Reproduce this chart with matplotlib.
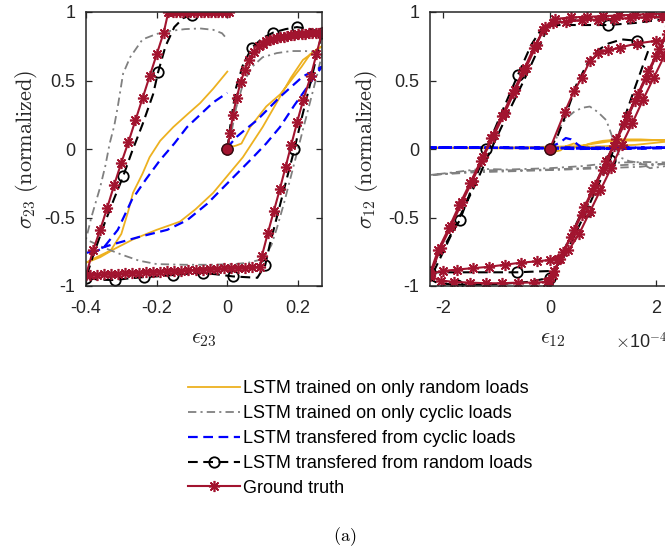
import matplotlib
matplotlib.use('Agg')
import matplotlib.pyplot as plt
from matplotlib.lines import Line2D

# ---------------- data: shear 23 (left panel) ----------------
# ground truth
gt23_x = ([0, 0.008, 0.016, 0.026, 0.038, 0.05, 0.062, 0.076, 0.09, 0.10, 0.11, 0.12, 0.13,
           0.14, 0.15, 0.16, 0.17, 0.18, 0.19, 0.20, 0.21, 0.22, 0.23, 0.24, 0.25, 0.26, 0.268]
          + [0.252, 0.236, 0.215, 0.198, 0.181, 0.165, 0.149, 0.132, 0.115, 0.098, 0.092]
          + [0.07, 0.05, 0.03, 0.01, -0.01, -0.03, -0.05, -0.07, -0.09, -0.11, -0.13, -0.15, -0.17,
             -0.19, -0.21, -0.23, -0.25, -0.27, -0.29, -0.31, -0.33, -0.35, -0.37, -0.39, -0.4]
          + [-0.38, -0.36, -0.34, -0.32, -0.30, -0.28, -0.26, -0.24, -0.22, -0.20, -0.18, -0.167]
          + [-0.155, -0.145, -0.135, -0.125, -0.115, -0.105, -0.095, -0.085, -0.075, -0.065,
             -0.055, -0.045, -0.035, -0.025, -0.015, -0.005, 0.005])
gt23_y = ([0, 0.12, 0.25, 0.37, 0.49, 0.58, 0.65, 0.71, 0.75, 0.77, 0.785, 0.795, 0.80,
           0.81, 0.815, 0.82, 0.825, 0.83, 0.833, 0.836, 0.84, 0.842, 0.845, 0.847, 0.85, 0.85, 0.852]
          + [0.69, 0.53, 0.36, 0.20, 0.03, -0.13, -0.29, -0.45, -0.61, -0.78, -0.86]
          + [-0.862, -0.865, -0.867, -0.87, -0.872, -0.875, -0.877, -0.88, -0.882, -0.885, -0.887,
             -0.89, -0.892, -0.895, -0.897, -0.90, -0.902, -0.905, -0.907, -0.91, -0.912, -0.915,
             -0.917, -0.92, -0.92]
          + [-0.74, -0.59, -0.43, -0.26, -0.10, 0.05, 0.21, 0.37, 0.53, 0.69, 0.85, 1.0]
          + [1.0, 1.0, 0.999, 0.999, 0.999, 0.998, 0.998, 0.998, 0.998, 0.998,
             0.998, 0.998, 0.998, 0.998, 0.998, 0.998, 0.998])

# LSTM transfered from random loads
bk23_x = [0, 0.01, 0.025, 0.045, 0.07, 0.1, 0.13, 0.165, 0.197, 0.235, 0.268, 0.255, 0.235, 0.21,
          0.19, 0.165, 0.14, 0.12, 0.107, 0.085, 0.05, 0.016, -0.03, -0.07, -0.11, -0.155, -0.2,
          -0.236, -0.28, -0.318, -0.36, -0.4, -0.38, -0.35, -0.32, -0.295, -0.27, -0.24, -0.21,
          -0.196, -0.175, -0.15, -0.125, -0.10, -0.07]
bk23_y = [0, 0.2, 0.45, 0.62, 0.74, 0.81, 0.85, 0.875, 0.89, 0.875, 0.85, 0.7, 0.48, 0.22,
          0.0, -0.25, -0.5, -0.7, -0.85, -0.94, -0.935, -0.93, -0.915, -0.905, -0.91, -0.92, -0.93,
          -0.935, -0.945, -0.956, -0.955, -0.94, -0.78, -0.56, -0.36, -0.2, -0.02, 0.18, 0.4,
          0.56, 0.75, 0.89, 0.955, 0.98, 0.99]
bk23_cx = [0, 0.07, 0.13, 0.197, 0.268, 0.19, 0.107, 0.016, -0.07, -0.155, -0.236, -0.318, -0.4,
           -0.295, -0.196, -0.10]
bk23_cy = [0, 0.74, 0.85, 0.89, 0.85, 0.0, -0.85, -0.93, -0.905, -0.92, -0.935, -0.956, -0.94,
           -0.2, 0.56, 0.98]

# LSTM trained on only cyclic loads
gy23_x = [0, 0.01, 0.025, 0.045, 0.07, 0.1, 0.14, 0.18, 0.22, 0.25, 0.268, 0.255, 0.235, 0.21,
          0.185, 0.16, 0.14, 0.125, 0.11, 0.09, 0.06, 0.02, -0.05, -0.12, -0.2, -0.25, -0.3, -0.35,
          -0.4, -0.385, -0.36, -0.345, -0.333, -0.32, -0.31, -0.295, -0.275, -0.24, -0.2, -0.167,
          -0.12, -0.077, -0.04, -0.015, 0.0]
gy23_y = [0, 0.1, 0.3, 0.48, 0.6, 0.67, 0.70, 0.715, 0.715, 0.71, 0.69, 0.55, 0.35, 0.1,
          -0.15, -0.4, -0.58, -0.7, -0.77, -0.81, -0.83, -0.84, -0.845, -0.845, -0.84, -0.815,
          -0.77, -0.72, -0.66, -0.5, -0.28, -0.12, 0.04, 0.17, 0.31, 0.55, 0.67, 0.80, 0.84, 0.86,
          0.875, 0.88, 0.87, 0.845, 0.80]

# LSTM trained on only random loads
yl23_x = [0, 0.01, 0.025, 0.04, 0.065, 0.11, 0.15, 0.18, 0.21, 0.234, 0.255, 0.268, 0.24, 0.214,
          0.18, 0.149, 0.1, 0.044, -0.04, -0.09, -0.134, -0.2, -0.267, -0.32, -0.36, -0.4, -0.37,
          -0.33, -0.30, -0.28, -0.267, -0.24, -0.22, -0.19, -0.153, -0.11, -0.077, -0.04, 0.0]
yl23_y = [0, 0.015, 0.025, 0.04, 0.16, 0.31, 0.40, 0.50, 0.60, 0.69, 0.73, 0.75, 0.70, 0.65,
          0.52, 0.38, 0.16, -0.06, -0.32, -0.44, -0.53, -0.59, -0.66, -0.73, -0.79, -0.83, -0.79,
          -0.74, -0.62, -0.45, -0.32, -0.18, -0.06, 0.06, 0.16, 0.26, 0.335, 0.44, 0.565]

# LSTM transfered from cyclic loads
bl23_x = [0, 0.01, 0.027, 0.05, 0.084, 0.149, 0.214, 0.268, 0.25, 0.234, 0.19, 0.149, 0.11,
          0.073, 0.008, -0.057, -0.114, -0.17, -0.247, -0.33, -0.4, -0.37, -0.35, -0.31, -0.27,
          -0.23, -0.19, -0.15, -0.114, -0.04, 0.0]
bl23_y = [0, 0.04, 0.09, 0.14, 0.21, 0.38, 0.53, 0.60, 0.54, 0.48, 0.32, 0.16, 0.04,
          -0.06, -0.23, -0.40, -0.52, -0.59, -0.64, -0.70, -0.76, -0.745, -0.72, -0.59, -0.37,
          -0.22, -0.08, 0.04, 0.16, 0.34, 0.41]

# ---------------- data: shear 12 (right panel), strain in 1e-4 ----------------
gt12_x = ([0, 0.28, 0.45, 0.6, 0.75, 0.9, 1.1, 1.31, 1.63, 2.0, 2.3]
          + [2.15, 1.95, 1.75, 1.55, 1.35, 1.15, 0.95, 0.75, 0.55, 0.35, 0.15, 0.0]
          + [-0.25, -0.55, -0.85, -1.15, -1.45, -1.75, -2.0, -2.25]
          + [-2.1, -1.9, -1.7, -1.5, -1.3, -1.1, -0.9, -0.7, -0.5, -0.3, -0.12, 0.05]
          + [0.3, 0.6, 0.9, 1.2, 1.5, 1.8, 2.1, 2.35]
          + [2.2, 2.0, 1.8, 1.6, 1.4, 1.2, 1.0, 0.8, 0.6, 0.4, 0.2, 0.05, -0.05]
          + [-0.3, -0.6, -0.9, -1.2, -1.5, -1.8, -2.05, -2.25]
          + [-2.05, -1.85, -1.65, -1.45, -1.25, -1.05, -0.85, -0.65, -0.45, -0.25, -0.1, 0.1]
          + [0.4, 0.7, 1.0, 1.3, 1.6, 1.9, 2.2, 2.35]
          + [2.25, 2.05, 1.85, 1.65, 1.45, 1.25, 1.05, 0.85, 0.65, 0.45, 0.25, 0.08, -0.02])
gt12_y = ([0, 0.27, 0.42, 0.52, 0.64, 0.70, 0.72, 0.74, 0.77, 0.79, 0.80]
          + [0.68, 0.52, 0.36, 0.19, 0.03, -0.14, -0.30, -0.46, -0.62, -0.74, -0.80, -0.81]
          + [-0.82, -0.83, -0.845, -0.86, -0.87, -0.88, -0.89, -0.91]
          + [-0.74, -0.58, -0.41, -0.25, -0.09, 0.08, 0.24, 0.41, 0.57, 0.74, 0.87, 0.92]
          + [0.93, 0.94, 0.945, 0.95, 0.955, 0.96, 0.965, 0.97]
          + [0.84, 0.68, 0.51, 0.35, 0.18, 0.02, -0.15, -0.31, -0.48, -0.64, -0.80, -0.92, -0.97]
          + [-0.975, -0.975, -0.98, -0.98, -0.975, -0.97, -0.96, -0.93]
          + [-0.72, -0.56, -0.39, -0.23, -0.06, 0.10, 0.26, 0.43, 0.59, 0.76, 0.89, 0.95]
          + [0.96, 0.965, 0.97, 0.975, 0.98, 0.985, 0.99, 0.99]
          + [0.9, 0.73, 0.57, 0.40, 0.24, 0.07, -0.09, -0.26, -0.42, -0.59, -0.75, -0.89, -0.96])

bk12_x = ([0, 0.15, 0.3, 0.5, 0.7, 0.9, 1.1, 1.35, 1.64, 1.85]
          + [1.6, 1.35, 1.13, 0.9, 0.69, 0.45, 0.25, 0.05]
          + [-0.3, -0.62, -1.0, -1.5, -2.0, -2.25]
          + [-2.0, -1.85, -1.69, -1.45, -1.19, -0.9, -0.6, -0.35, -0.15, 0.1]
          + [0.6, 1.1, 1.6, 2.0, 2.35]
          + [2.1, 1.8, 1.5, 1.2, 0.9, 0.6, 0.3, 0.1, 0.0]
          + [-0.4, -0.9, -1.3, -1.75, -2.1, -2.25]
          + [-2.0, -1.7, -1.4, -1.1, -0.8, -0.5, -0.25, -0.05, 0.2, 0.8, 1.5, 2.35])
bk12_y = ([0, 0.1, 0.25, 0.47, 0.62, 0.72, 0.77, 0.80, 0.79, 0.72]
          + [0.45, 0.17, -0.08, -0.27, -0.45, -0.64, -0.8, -0.89]
          + [-0.895, -0.9, -0.9, -0.9, -0.9, -0.9]
          + [-0.72, -0.62, -0.52, -0.27, 0.0, 0.27, 0.54, 0.76, 0.88, 0.905]
          + [0.905, 0.905, 0.92, 0.94, 0.95]
          + [0.76, 0.52, 0.27, 0.03, -0.22, -0.46, -0.71, -0.88, -0.94]
          + [-0.97, -0.985, -0.99, -0.99, -0.98, -0.95]
          + [-0.75, -0.5, -0.26, 0.0, 0.25, 0.49, 0.7, 0.88, 0.93, 0.95, 0.97, 0.98])
bk12_cx = [0, 1.1, 1.64, -0.6, -1.19, -1.69, -2.25, -1.75, -0.62, 0.0, 1.13, 0.69]
bk12_cy = [0, 0.905, 0.79, 0.54, 0.0, -0.52, -0.9, -0.99, -0.9, -0.94, -0.08, -0.45]

gy12_x = ([0, 0.1, 0.19, 0.3, 0.45, 0.6, 0.75, 0.9, 1.06, 1.19, 1.31, 1.5, 1.69, 1.88, 2.1, 2.35]
          + [1.8, 1.2, 0.6, 0.0, -0.6, -1.31, -1.8, -2.25]
          + [-1.8, -1.3, -0.8, 0.0, 0.6, 1.19, 1.8, 2.35]
          + [1.7, 1.0, 0.3, -0.5, -1.4, -2.25])
gy12_y = ([0, 0.05, 0.16, 0.22, 0.27, 0.30, 0.31, 0.27, 0.21, 0.07, -0.06, -0.09, -0.10, -0.14,
           -0.13, -0.11]
          + [-0.11, -0.12, -0.14, -0.15, -0.155, -0.155, -0.175, -0.19]
          + [-0.17, -0.145, -0.15, -0.14, -0.125, -0.10, -0.095, -0.10]
          + [-0.13, -0.14, -0.15, -0.16, -0.17, -0.19])

bl12_x = [0, 0.1, 0.2, 0.3, 0.4, 0.5, 0.6, 0.9, 1.3, 1.8, 2.35, 1.5, 0.5, -0.5, -1.5, -2.25,
          -1.2, 0.0, 1.2, 2.35, 1.0, -0.5, -2.25, 0.0, 2.35]
bl12_y = [0, 0.03, 0.05, 0.08, 0.07, 0.04, 0.01, 0.0, 0.01, 0.01, 0.01, 0.005, 0.0, 0.005,
          0.01, 0.01, 0.01, 0.005, 0.0, 0.01, 0.01, 0.01, 0.01, 0.01, 0.005]

yl12_x = [0, 0.08, 0.2, 0.3, 0.45, 0.6, 0.8, 1.0, 1.3, 1.7, 2.0, 2.35, 1.6, 1.0, 0.3, -0.5,
          -1.5, -2.25, -1.0, 0.5, 1.2, 2.35]
yl12_y = [0, -0.02, -0.01, 0.02, 0.04, 0.02, 0.045, 0.06, 0.07, 0.07, 0.065, 0.06, 0.03, 0.02,
          0.01, 0.005, 0.005, 0.01, 0.01, 0.02, 0.06, 0.065]

labels = ['LSTM trained on only random loads', 'LSTM trained on only cyclic loads',
          'LSTM transfered from cyclic loads', 'LSTM transfered from random loads',
          'Ground truth']
yticks = [-1, -0.5, 0, 0.5, 1]
ytick_labels = ['-1', '-0.5', '0', '0.5', '1']
xticks23 = [-0.4, -0.2, 0, 0.2]
xtick_labels23 = ['-0.4', '-0.2', '0', '0.2']
xticks12 = [-2, 0, 2]
xtick_labels12 = ['-2', '0', '2']

# ---------------- styling ----------------
plt.rcParams['font.family'] = ['Liberation Sans', 'DejaVu Sans']
plt.rcParams['mathtext.fontset'] = 'cm'
plt.rcParams['lines.scale_dashes'] = False
plt.rcParams['axes.unicode_minus'] = False

RED = '#A2142F'
YEL = '#EDB120'
GRY = '#808080'
BLU = '#0000FF'
AX_COL = '#262626'
FS = 13

sty_yel = dict(color=YEL, lw=1.3)
sty_gry = dict(color=GRY, lw=1.3, dashes=[6, 3, 1.5, 3])
sty_blu = dict(color=BLU, lw=1.6, dashes=[7, 4])
sty_blk = dict(color='k', lw=1.5, dashes=[7, 4])
sty_circ = dict(ls='none', marker='o', ms=7.5, mfc='none', mec='k', mew=1.3)
sty_red = dict(color=RED, lw=1.5, marker=(8, 2, 0), ms=8, mew=1.2)

fig = plt.figure(figsize=(6.65, 5.52), dpi=100)
ax1 = fig.add_axes([86 / 665, 1 - 286 / 552, 236 / 665, 274 / 552])
ax2 = fig.add_axes([430 / 665, 1 - 286 / 552, 245 / 665, 274 / 552])


def draw(ax, yl, gy, bl, bk, bkc, gt):
    ax.plot(*yl, **sty_yel)
    ax.plot(*gy, **sty_gry)
    ax.plot(*bl, **sty_blu)
    ax.plot(*bk, **sty_blk)
    ax.plot(*bkc, **sty_circ)
    ax.plot(*gt, **sty_red)
    ax.plot(gt[0][0], gt[1][0], 'o', ms=8, mfc=RED, mec='#3a0a10', mew=1.0)


draw(ax1, (yl23_x, yl23_y), (gy23_x, gy23_y), (bl23_x, bl23_y), (bk23_x, bk23_y),
     (bk23_cx, bk23_cy), (gt23_x, gt23_y))
draw(ax2, (yl12_x, yl12_y), (gy12_x, gy12_y), (bl12_x, bl12_y), (bk12_x, bk12_y),
     (bk12_cx, bk12_cy), (gt12_x, gt12_y))

ax1.set_xlim(-0.4, 0.268)
ax2.set_xlim(-2.25, 2.35)
for ax in (ax1, ax2):
    ax.set_ylim(-1, 1)
    ax.set_yticks(yticks)
    ax.set_yticklabels(ytick_labels)
    ax.tick_params(direction='in', top=True, right=True, length=4, width=0.9,
                   labelsize=FS, colors=AX_COL)
    ax.tick_params(axis='x', pad=10)
    ax.tick_params(axis='y', pad=7.5)
    for sp in ax.spines.values():
        sp.set_linewidth(1.1)
        sp.set_color(AX_COL)
ax1.set_xticks(xticks23)
ax1.set_xticklabels(xtick_labels23)
ax2.set_xticks(xticks12)
ax2.set_xticklabels(xtick_labels12)

ax1.set_ylabel(r'$\sigma_{23}\ \mathrm{(normalized)}$', fontsize=16, color=AX_COL)
ax1.yaxis.set_label_coords(-0.195, 0.5)
ax2.set_ylabel(r'$\sigma_{12}\ \mathrm{(normalized)}$', fontsize=16, color=AX_COL)
ax2.yaxis.set_label_coords(-0.204, 0.5)
ax1.set_xlabel(r'$\epsilon_{23}$', fontsize=16, color=AX_COL)
ax1.xaxis.set_label_coords(0.5, -0.155)
ax2.set_xlabel(r'$\epsilon_{12}$', fontsize=16, color=AX_COL)
ax2.xaxis.set_label_coords(0.5, -0.155)
fig.text(615 / 665, 1 - 342 / 552, r'$\times$10$^{-4}$', fontsize=FS, color=AX_COL,
         ha='left', va='center')

handles = [Line2D([], [], **sty_yel), Line2D([], [], **sty_gry), Line2D([], [], **sty_blu),
           Line2D([], [], marker='o', ms=7.5, mfc='none', mec='k', mew=1.3, **sty_blk),
           Line2D([], [], **sty_red)]
fig.legend(handles, labels, loc='upper left', bbox_to_anchor=(188 / 665, 1 - 380 / 552),
           frameon=False, fontsize=FS, handlelength=2.9, handletextpad=0.17,
           labelspacing=0.44, borderpad=0, borderaxespad=0, numpoints=1)

fig.text(345 / 665, 1 - 537 / 552, r'$\mathrm{(a)}$', fontsize=13, ha='center', va='center')

fig.savefig('out.png', dpi=100)
